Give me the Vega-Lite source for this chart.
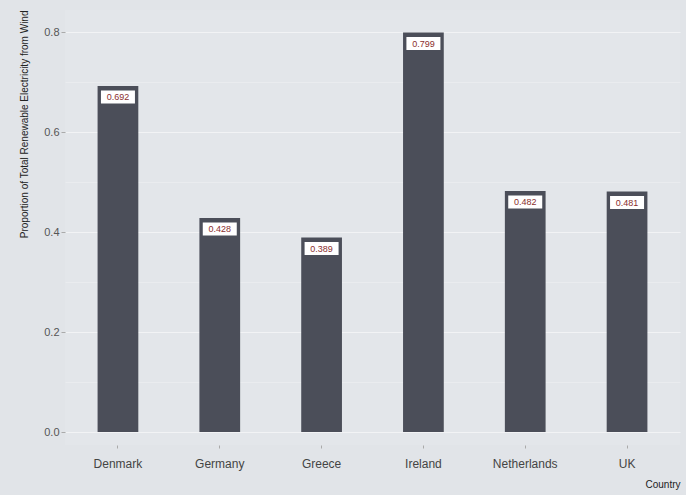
{
  "$schema": "https://vega.github.io/schema/vega-lite/v6.json",
  "width": 615,
  "height": 435,
  "padding": {"left": 65, "top": 10, "right": 6, "bottom": 50},
  "autosize": {"type": "none"},
  "background": "#e1e4e8",
  "config": {
    "view": {"fill": "#e3e6ea", "stroke": null},
    "font": "Liberation Sans",
    "axis": {"domain": false, "labelFont": "Liberation Sans", "titleFont": "Liberation Sans"}
  },
  "data": {"values": [
    {"Country": "Denmark", "value": 0.692},
    {"Country": "Germany", "value": 0.428},
    {"Country": "Greece", "value": 0.389},
    {"Country": "Ireland", "value": 0.799},
    {"Country": "Netherlands", "value": 0.482},
    {"Country": "UK", "value": 0.481}
  ]},
  "encoding": {
    "x": {"field": "Country", "type": "nominal", "sort": null,
      "scale": {"paddingInner": 0.6, "paddingOuter": 0.32},
      "axis": {"labelAngle": 0, "labelFontSize": 12, "labelColor": "#444", "labelPadding": 10, "tickColor": "#aaa", "tickSize": 3, "grid": false,
        "title": "Country", "titleFontSize": 10, "titleFontWeight": "normal", "titleColor": "#222", "titleAnchor": "end", "titlePadding": 10}},
    "y": {"field": "value", "type": "quantitative",
      "scale": {"domain": [-0.026, 0.844], "nice": false, "zero": false},
      "axis": {"values": [0, 0.1, 0.2, 0.3, 0.4, 0.5, 0.6, 0.7, 0.8],
        "labelExpr": "round(datum.value*10) % 2 == 0 ? format(datum.value, '.1f') : ''",
        "labelFontSize": 11, "labelColor": "#555", "tickColor": {"condition": {"test": "round(datum.value*10) % 2 == 0", "value": "#aaa"}, "value": "transparent"}, "tickSize": 4,
        "gridColor": {"condition": {"test": "round(datum.value*10) % 2 == 0", "value": "#f2f3f5"}, "value": "#eceef1"},
        "gridWidth": {"condition": {"test": "round(datum.value*10) % 2 == 0", "value": 1.2}, "value": 0.7},
        "title": "Proportion of Total Renewable Electricity from Wind", "titleFontSize": 10, "titleFontWeight": "normal", "titleColor": "#222", "titleAnchor": "end", "titlePadding": 14}}
  },
  "layer": [
    {"mark": {"type": "bar", "color": "#4b4e59"}, "encoding": {"y": {"datum": 0, "type": "quantitative"}, "y2": {"field": "value"}}},
    {"mark": {"type": "tick", "color": "#ffffff", "thickness": 13, "size": 34, "yOffset": 11, "opacity": 1}},
    {"mark": {"type": "text", "color": "#8a2e2e", "fontSize": 9, "yOffset": 11}, "encoding": {"text": {"field": "value", "type": "quantitative", "format": ".3f"}}}
  ]
}
